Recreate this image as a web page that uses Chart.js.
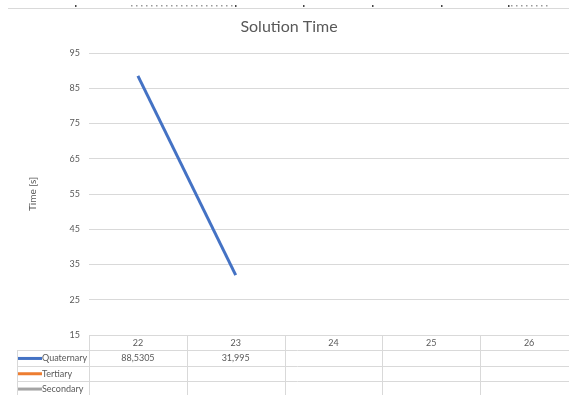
<!DOCTYPE html>
<html>
<head>
<meta charset="utf-8">
<title>Solution Time</title>
<script src="https://cdn.jsdelivr.net/npm/chart.js@4/dist/chart.umd.min.js"></script>
<style>
  html, body { margin: 0; padding: 0; background: #fff; overflow: hidden; }
  #wrap { position: relative; width: 578px; height: 395px; }
</style>
</head>
<body>
<div id="wrap"><canvas id="chart"></canvas></div>
<script>
// Solution time per grid size, one series per element order
const categories = ['22', '23', '24', '25', '26'];
const quaternary = [88.5305, 31.995, null, null, null];
const tertiary = [null, null, null, null, null];
const secondary = [null, null, null, null, null];
const yTicks = [15, 25, 35, 45, 55, 65, 75, 85, 95];

const seriesNames = ['Quaternary', 'Tertiary', 'Secondary'];
const seriesColors = ['#4472C4', '#ED7D31', '#A5A5A5'];
const seriesData = [quaternary, tertiary, secondary];

const GRID = '#D9D9D9';
const TEXT = '#595959';
const FONT = 'Lato, "Open Sans", sans-serif';

// decimal comma, as in the sheet
function fmt(v) {
  return v === null ? '' : String(v).replace('.', ',');
}

// data table under the plot + the strip line at the very top
const tablePlugin = {
  id: 'dataTable',
  afterDraw(chart) {
    const ctx = chart.ctx;
    const x = chart.scales.x;
    const area = chart.chartArea;
    const n = categories.length;
    const colW = (area.right - area.left) / n;
    const top = area.bottom;
    const rowH = 15.3;
    const bottom = chart.height;
    const legendLeft = 17;

    ctx.save();

    // cut-off row above the chart
    ctx.strokeStyle = GRID;
    ctx.lineWidth = 1;
    ctx.beginPath();
    ctx.moveTo(8, 8.5);
    ctx.lineTo(chart.width, 8.5);
    ctx.stroke();
    ctx.fillStyle = '#444';
    [75, 235, 303, 372, 441, 508].forEach(px => ctx.fillRect(px, 5, 1.5, 2));
    ctx.fillStyle = '#999';
    for (let px = 131; px < 233; px += 5) ctx.fillRect(px, 5, 1.5, 1.5);
    for (let px = 511; px < 548; px += 5) ctx.fillRect(px, 5, 1.5, 1.5);

    // grid lines of the table
    ctx.strokeStyle = GRID;
    ctx.beginPath();
    ctx.moveTo(area.left, top + 0.5);
    ctx.lineTo(area.right, top + 0.5);
    for (let r = 1; r <= 3; r++) {
      const y = Math.round(top + r * rowH) + 0.5;
      ctx.moveTo(legendLeft, y);
      ctx.lineTo(area.right, y);
    }
    for (let c = 0; c <= n; c++) {
      const cx = Math.round(area.left + c * colW) + 0.5;
      ctx.moveTo(cx, top);
      ctx.lineTo(cx, bottom);
    }
    ctx.moveTo(legendLeft + 0.5, top + rowH);
    ctx.lineTo(legendLeft + 0.5, bottom);
    ctx.stroke();

    ctx.font = '9px ' + FONT;
    ctx.fillStyle = TEXT;
    ctx.textBaseline = 'middle';

    // header: category labels
    ctx.textAlign = 'center';
    categories.forEach((c, i) => {
      ctx.fillText(c, x.getPixelForValue(i), top + rowH / 2 + 0.5);
    });

    // one row per series: legend key + values
    seriesNames.forEach((name, r) => {
      const cy = top + rowH * (r + 1) + rowH / 2 + 0.5;
      ctx.strokeStyle = seriesColors[r];
      ctx.lineWidth = 3;
      ctx.beginPath();
      ctx.moveTo(18, cy);
      ctx.lineTo(42, cy);
      ctx.stroke();
      ctx.textAlign = 'left';
      ctx.fillText(name, 42, cy);
      ctx.textAlign = 'center';
      seriesData[r].forEach((v, i) => {
        ctx.fillText(fmt(v), x.getPixelForValue(i), cy);
      });
    });

    ctx.restore();
  }
};

new Chart(document.getElementById('chart'), {
  type: 'line',
  data: {
    labels: categories,
    datasets: seriesNames.map((name, i) => ({
      label: name,
      data: seriesData[i],
      borderColor: seriesColors[i],
      backgroundColor: seriesColors[i],
      borderWidth: 3,
      pointRadius: 0,
      tension: 0
    }))
  },
  options: {
    responsive: true,
    maintainAspectRatio: false,
    animation: false,
    layout: { padding: 0 },
    plugins: {
      legend: { display: false },
      tooltip: { enabled: false },
      title: {
        display: true,
        text: 'Solution Time',
        color: TEXT,
        font: { family: FONT, size: 16, weight: 'normal' },
        padding: { top: 17.4, bottom: 16.4 }
      }
    },
    scales: {
      x: {
        type: 'category',
        offset: true,
        grid: { display: false },
        border: { display: false },
        ticks: { display: false },
        afterFit(scale) { scale.height = 60; }
      },
      y: {
        min: 15,
        max: 95,
        afterBuildTicks(scale) { scale.ticks = yTicks.map(v => ({ value: v })); },
        afterFit(scale) { scale.width = 89; },
        grid: { color: GRID, drawTicks: false, lineWidth: 1 },
        border: { display: false },
        ticks: {
          color: TEXT,
          padding: 9,
          font: { family: FONT, size: 9 }
        },
        title: {
          display: true,
          text: 'Time [s]',
          color: TEXT,
          font: { family: FONT, size: 10 },
          padding: { top: 27, bottom: 0 }
        }
      }
    }
  },
  plugins: [tablePlugin]
});
</script>
</body>
</html>
